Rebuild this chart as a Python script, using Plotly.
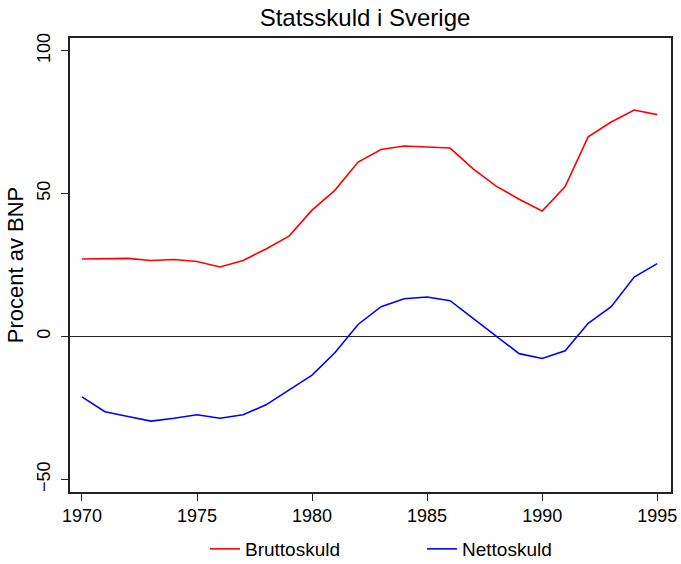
import plotly.graph_objects as go

years = list(range(1970, 1996))
brutto = [27.1, 27.3, 27.3, 26.6, 26.9, 26.2, 24.3, 26.6, 30.6, 35.1,
          44.2, 51.2, 61.0, 65.4, 66.6, 66.3, 65.9, 58.6, 52.6, 48.0,
          43.9, 52.4, 69.8, 75.0, 79.2, 77.6]
netto = [-21.1, -26.3, -28.0, -29.6, -28.6, -27.4, -28.6, -27.4, -23.9, -18.7,
         -13.5, -5.6, 4.2, 10.4, 13.2, 13.8, 12.5, 6.3, 0.2, -6.0,
         -7.7, -5.0, 4.6, 10.4, 20.8, 25.5]
series_names = ["Bruttoskuld", "Nettoskuld"]
x_ticks = [1970, 1975, 1980, 1985, 1990, 1995]
y_ticks = [-50, 0, 50, 100]

FONT = "Liberation Sans, Arial, sans-serif"

fig = go.Figure()
fig.add_trace(go.Scatter(x=years, y=brutto, mode="lines", name=series_names[0],
                         line=dict(color="#ff0000", width=1.6)))
fig.add_trace(go.Scatter(x=years, y=netto, mode="lines", name=series_names[1],
                         line=dict(color="#0000ff", width=1.6)))

fig.update_layout(
    width=681, height=564,
    paper_bgcolor="white", plot_bgcolor="white",
    margin=dict(l=70, r=10, t=38, b=72, autoexpand=False),
    font=dict(family=FONT, color="black"),
    title=dict(text="Statsskuld i Sverige", x=0.536, xanchor="center",
               y=0.968, yanchor="middle", font=dict(size=24, color="black")),
    showlegend=True,
    legend=dict(orientation="h", x=0.2246, xanchor="left", y=-0.1674, yanchor="bottom",
                font=dict(size=19), entrywidth=172, entrywidthmode="pixels",
                bgcolor="rgba(0,0,0,0)"),
)
fig.update_xaxes(range=[1969.48, 1995.6], tickvals=x_ticks, ticks="outside", ticklen=7,
                 tickwidth=1.2, tickcolor="#222", showgrid=False, zeroline=False,
                 showline=True, linecolor="#222", linewidth=1.5, mirror=True,
                 tickfont=dict(size=18), automargin=False)
fig.update_yaxes(range=[-54.4, 104.4], tickvals=y_ticks, ticks="outside", ticklen=7,
                 tickwidth=1.2, tickcolor="#222", showgrid=False,
                 zeroline=True, zerolinecolor="#222", zerolinewidth=1,
                 showline=True, linecolor="#222", linewidth=1.5, mirror=True,
                 tickangle=-90, tickfont=dict(size=18), ticklabelstandoff=4,
                 automargin=False,
                 title=dict(text="Procent av BNP", font=dict(size=22), standoff=4))

fig.write_html("out.html", config={"displayModeBar": False},
               post_script="document.body.style.margin='0';")
